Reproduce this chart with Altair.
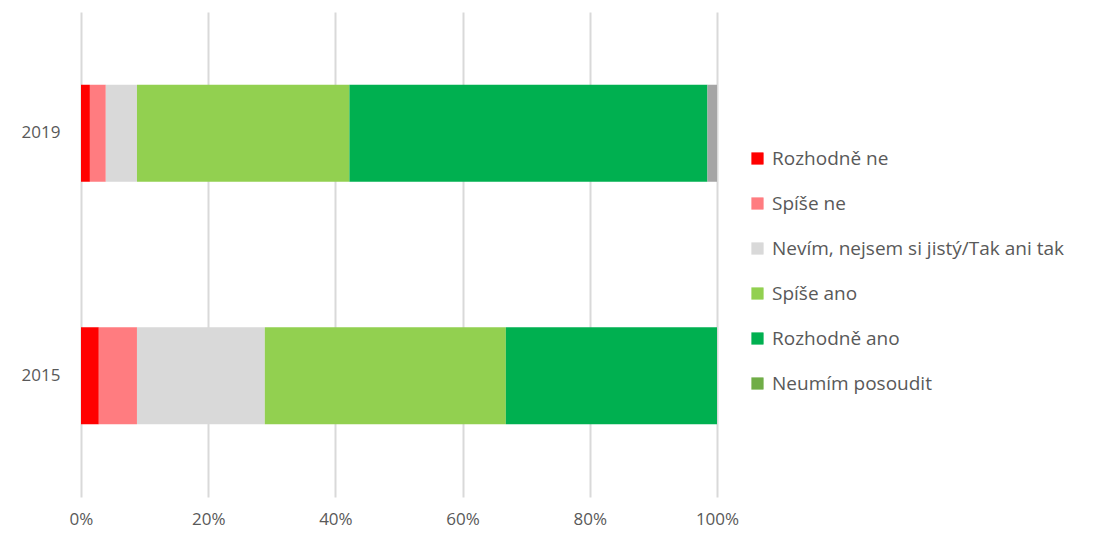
import altair as alt
import pandas as pd

years = ["2019", "2015"]
categories = ["Rozhodně ne", "Spíše ne", "Nevím, nejsem si jistý/Tak ani tak",
              "Spíše ano", "Rozhodně ano", "Neumím posoudit", "Bez odpovědi"]
colors = ["#FF0000", "#FF7C80", "#D9D9D9", "#92D050", "#00B050", "#70AD47", "#A5A5A5"]
values_2019 = [1.4, 2.5, 4.9, 33.4, 56.3, 0.0, 1.5]
values_2015 = [2.8, 6.0, 20.1, 37.9, 33.2, 0.0, 0.0]

rows = []
for y, vals in zip(years, [values_2019, values_2015]):
    for i, (c, v) in enumerate(zip(categories, vals)):
        rows.append({"rok": y, "kategorie": c, "podil": v / 100.0, "poradi": i})
df = pd.DataFrame(rows)

font = "Open Sans"
txt = "#595959"

chart = alt.Chart(df).mark_bar(strokeWidth=0).encode(
    y=alt.Y("rok:N", sort=years, title=None,
            scale=alt.Scale(paddingInner=0.6, paddingOuter=0.3),
            axis=alt.Axis(domain=False, ticks=False, labelFont=font, labelFontSize=17,
                          labelColor=txt, labelPadding=21, grid=False)),
    x=alt.X("podil:Q", stack="zero", title=None,
            scale=alt.Scale(domain=[0, 1], nice=False),
            axis=alt.Axis(format="%", values=[0, 0.2, 0.4, 0.6, 0.8, 1.0], domain=False,
                          ticks=False, grid=True, gridColor="#D9D9D9", gridWidth=2,
                          labelFlush=False, labelFont=font, labelFontSize=17,
                          labelColor=txt, labelPadding=14)),
    color=alt.Color("kategorie:N", title=None,
                    scale=alt.Scale(domain=categories, range=colors),
                    legend=alt.Legend(values=categories[:6], orient="none", legendX=667,
                                      legendY=137, symbolType="square", symbolSize=150,
                                      symbolStrokeWidth=0, labelFont=font, labelFontSize=19,
                                      labelColor=txt, rowPadding=25, labelLimit=400,
                                      labelOffset=5)),
    order=alt.Order("poradi:Q"),
).properties(
    width=636, height=485,
    autosize=alt.AutoSizeParams(type="none"),
    padding={"left": 73, "top": 4, "right": 370, "bottom": 34},
).configure_view(stroke=None)

chart.save("out.html", embed_options={"renderer": "svg", "actions": False})
